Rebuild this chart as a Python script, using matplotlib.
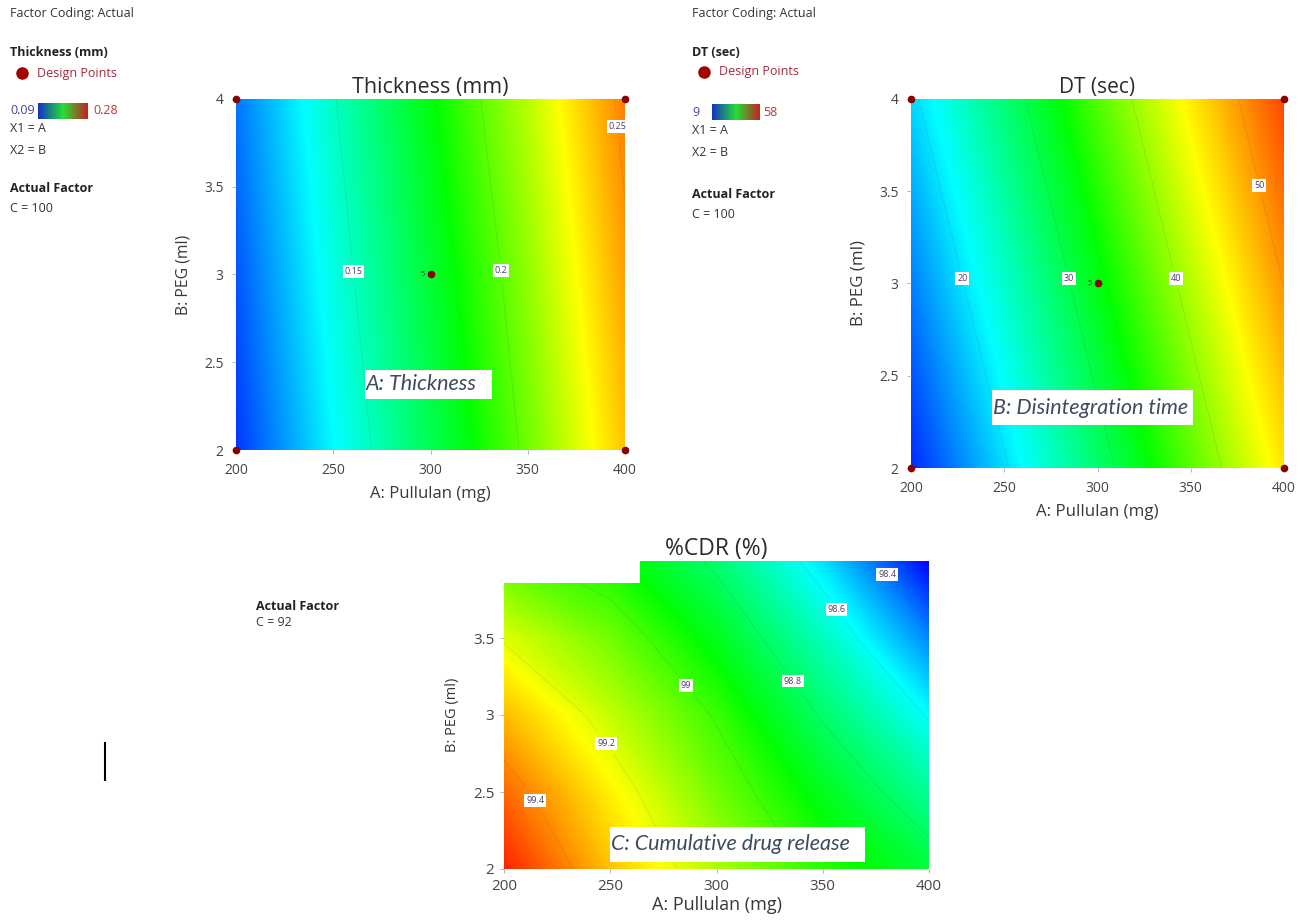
import numpy as np
import matplotlib
matplotlib.use('Agg')
import matplotlib.pyplot as plt
from matplotlib.colors import LinearSegmentedColormap
from matplotlib.patches import Rectangle
from matplotlib.lines import Line2D

plt.rcParams['font.family'] = ['Open Sans', 'DejaVu Sans']

# factor levels (A: pullulan mg, B: PEG ml)
pullulan = [200, 250, 300, 350, 400]
peg_3 = [2, 3, 4]
peg_5 = [2, 2.5, 3, 3.5, 4]

# response values (rows = PEG, cols = pullulan)
thickness = [[0.100, 0.137, 0.170, 0.203, 0.240],
             [0.106, 0.143, 0.176, 0.209, 0.247],
             [0.112, 0.149, 0.183, 0.216, 0.254]]
dt_sec = [[10.9, 19.6, 28.4, 37.1, 45.9],
          [15.1, 23.8, 32.6, 41.3, 50.1],
          [19.3, 28.0, 36.8, 45.5, 54.3]]
cdr = [[99.55, 99.32, 99.13, 98.97, 98.85],
       [99.45, 99.25, 99.06, 98.89, 98.73],
       [99.33, 99.16, 98.99, 98.79, 98.59],
       [99.19, 99.06, 98.89, 98.68, 98.43],
       [99.03, 98.94, 98.78, 98.55, 98.25]]

thick_levels = [0.15, 0.2, 0.25]
dt_levels = [20, 30, 40, 50]
cdr_levels = [98.4, 98.6, 98.8, 99.0, 99.2, 99.4]

thick_range = (0.09, 0.28)
dt_range = (9, 58)
cdr_range = (98.25, 99.6)

design_a = [200, 400, 200, 400, 300]
design_b = [2, 2, 4, 4, 3]
center_reps = '5'

W, H = 1306, 923
def fx(px):
    return px / W
def fy(py):
    return 1 - py / H

de_cmap = LinearSegmentedColormap.from_list('de', [(0, '#0000ff'), (0.25, '#00ffff'), (0.5, '#00ff00'),
                                                   (0.73, '#ffff00'), (1, '#ff0000')])
# the little key in the legend is only blue-green-red
key_cmap = LinearSegmentedColormap.from_list('key', ['#1530c8', '#25e035', '#c82020'])
DARK = '#2b2b2b'
TICK = '#454545'


def surface(ax, a, b, z, rng, levels, label_at, title, fs_title, fs_tick, fs_xlab, fs_ylab, points=True):
    A, B = np.meshgrid(a, b)
    Z = np.array(z)
    fill_lv = np.linspace(rng[0], rng[1], 256)
    ax.contourf(A, B, Z, levels=fill_lv, cmap=de_cmap, extend='both')
    cs = ax.contour(A, B, Z, levels=levels, colors='#303030', linewidths=0.5, alpha=0.15)
    lbls = ax.clabel(cs, levels, inline=True, fontsize=6.5, fmt=lambda v: '%g' % v,
                     manual=label_at, colors='#4b3d66')
    for t in lbls:
        t.set_rotation(0)
        t.set_alpha(1)
        t.set_clip_on(False)
        t.set_bbox(dict(boxstyle='square,pad=0.2', fc='white', ec='none'))
    if points:
        ax.plot(design_a, design_b, 'o', color='#8b0000', ms=4.5, clip_on=False, zorder=6)
        ax.annotate(center_reps, (design_a[-1], design_b[-1]), xytext=(-4, 0), textcoords='offset points',
                    fontsize=5.5, ha='right', va='center', color='#333333')
    ax.set_xlim(200, 400)
    ax.set_ylim(2, 4)
    ax.set_xticks([200, 250, 300, 350, 400])
    ax.yaxis.set_major_formatter(lambda v, p: '%g' % v)
    for s in ax.spines.values():
        s.set_visible(False)
    ax.tick_params(direction='out', length=3, width=0.6, color='#aaaaaa', labelcolor=TICK,
                   labelsize=fs_tick, pad=6)
    ax.set_title(title, fontsize=fs_title, color=DARK, pad=4)
    ax.set_xlabel('A: Pullulan (mg)', fontsize=fs_xlab, color='#383838', labelpad=6)
    ax.set_ylabel('B: PEG (ml)', fontsize=fs_ylab, color='#383838', labelpad=9)


def legend_block(x, y0, name, lo, hi, cbar_x, cbar_w, hi_x, fs):
    fig.text(fx(x), fy(y0[0]), 'Factor Coding: Actual', fontsize=fs, color='#333333', va='center')
    fig.text(fx(x), fy(y0[1]), name, fontsize=fs, color='#222222', weight='bold', va='center')
    fig.add_artist(Line2D([fx(x + 12)], [fy(y0[2])], marker='o', ms=8, color='#a30000',
                          transform=fig.transFigure))
    fig.text(fx(x + 27), fy(y0[2]), 'Design Points', fontsize=fs, color='#a02b3a', va='center')
    fig.text(fx(x), fy(y0[3]), lo, fontsize=fs, color='#4040b0', va='center')
    cax = fig.add_axes([fx(cbar_x), fy(y0[3] + 8), cbar_w / W, 16 / H])
    cax.imshow(np.linspace(0, 1, 128)[None, :], aspect='auto', cmap=key_cmap)
    cax.set_axis_off()
    fig.text(fx(hi_x), fy(y0[3]), hi, fontsize=fs, color='#c83232', va='center')
    fig.text(fx(x), fy(y0[4]), 'X1 = A', fontsize=fs, color='#333333', va='center')
    fig.text(fx(x), fy(y0[5]), 'X2 = B', fontsize=fs, color='#333333', va='center')
    fig.text(fx(x), fy(y0[6]), 'Actual Factor', fontsize=fs, color='#222222', weight='bold', va='center')
    fig.text(fx(x), fy(y0[7]), 'C = 100', fontsize=fs, color='#333333', va='center')


def note_box(x0, y0, x1, y1, txt, fs):
    fig.add_artist(Rectangle((fx(x0), fy(y1)), (x1 - x0) / W, (y1 - y0) / H, transform=fig.transFigure,
                             fc='white', ec='none', zorder=10))
    fig.text(fx(x0 + 1), fy((y0 + y1) / 2), txt, fontsize=fs, style='italic', color='#3e4a5e',
             family=['Lato', 'Open Sans', 'DejaVu Sans'], va='center', ha='left', zorder=11)


fig = plt.figure(figsize=(W / 100, H / 100), dpi=100)

# A: thickness
ax1 = fig.add_axes([fx(236), fy(450), 389 / W, 351 / H])
surface(ax1, pullulan, peg_3, thickness, thick_range, thick_levels,
        [(262, 3.02), (335, 3.02), (394, 3.84)], 'Thickness (mm)', 15.5, 10, 12, 11.3)
ax1.set_yticks([2, 2.5, 3, 3.5, 4])

# B: disintegration time
ax2 = fig.add_axes([fx(911), fy(468), 373 / W, 369 / H])
surface(ax2, pullulan, peg_3, dt_sec, dt_range, dt_levels,
        [(228.6, 3.03), (285.4, 3.03), (342.7, 3.03), (386.5, 3.53)], 'DT (sec)', 15, 10, 12.2, 12.2)
ax2.set_yticks([2, 2.5, 3, 3.5, 4])

# C: cumulative drug release
ax3 = fig.add_axes([fx(504), fy(869), 425 / W, 308 / H])
surface(ax3, pullulan, peg_5, cdr, cdr_range, cdr_levels,
        [(218, 2.47), (250, 2.835), (281, 3.14), (333, 3.19), (350, 3.62), (378, 3.885)],
        '%CDR (%)', 16.5, 11, 13, 10.5, points=False)
ax3.set_yticks([2, 2.5, 3, 3.5])
ax3.xaxis.labelpad = 2
ax3.tick_params(pad=4)
# top-left corner of the pasted panel is cut off
ax3.add_patch(Rectangle((195, 3.86), 68.8, 0.3, fc='white', ec='none', zorder=8, clip_on=False))

legend_block(10, [14, 53, 73, 111, 129, 150, 189, 208], 'Thickness (mm)', '0.09', '0.28', 38, 50, 93, 9)
legend_block(692, [13, 52, 72, 112, 130, 153, 194, 214], 'DT (sec)', '9', '58', 712, 48, 763, 9)

fig.text(fx(256), fy(606), 'Actual Factor', fontsize=9, color='#222222', weight='bold', va='center')
fig.text(fx(256), fy(623), 'C = 92', fontsize=9, color='#333333', va='center')

note_box(365, 370, 492, 399, 'A: Thickness', 15.5)
note_box(992, 390, 1193, 425, 'B: Disintegration time', 15.5)
note_box(610, 827, 865, 862, 'C: Cumulative drug release', 15.5)

fig.add_artist(Line2D([fx(105), fx(105)], [fy(743), fy(780)], color='black', lw=1.5))

fig.savefig('out.png', dpi=100, facecolor='white')
